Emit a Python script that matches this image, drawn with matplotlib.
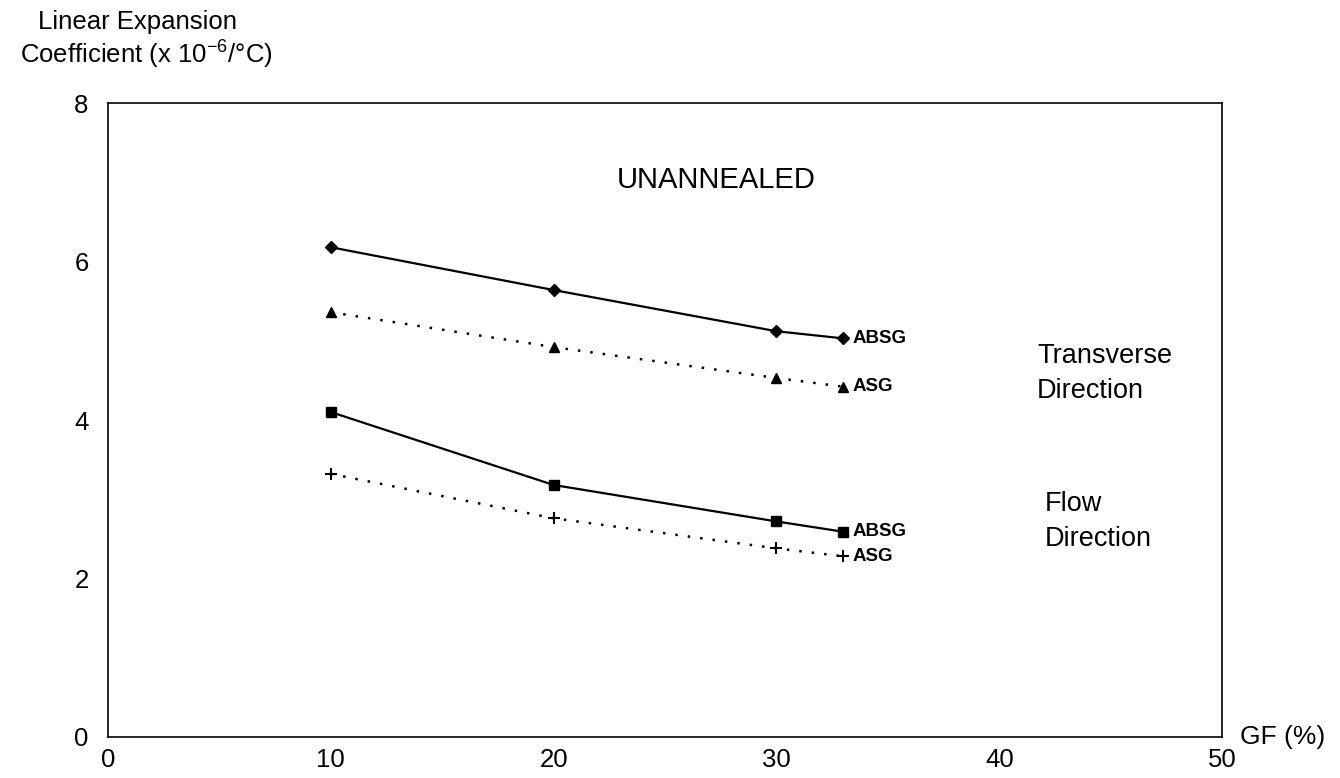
import matplotlib
matplotlib.use('Agg')
import matplotlib.pyplot as plt

plt.rcParams['font.family'] = ['Liberation Sans', 'DejaVu Sans']
plt.rcParams['mathtext.fontset'] = 'custom'
plt.rcParams['mathtext.rm'] = 'Liberation Sans'
plt.rcParams['mathtext.it'] = 'Liberation Sans'

# --- Daten ---
gf = [10, 20, 30, 33]
trans_absg = [6.18, 5.64, 5.12, 5.03]
trans_asg = [5.36, 4.92, 4.53, 4.42]
flow_absg = [4.10, 3.18, 2.72, 2.59]
flow_asg = [3.32, 2.76, 2.38, 2.28]
x_ticks = [0, 10, 20, 30, 40, 50]
y_ticks = [0, 2, 4, 6, 8]

fig = plt.figure(figsize=(13.4, 7.78), dpi=100)
ax = fig.add_axes([0.0806, 0.0527, 0.8314, 0.8149])

dotted = (0, (1, 4))
ax.plot(gf, trans_absg, color='black', lw=1.6, marker='D', ms=6)
ax.plot(gf, trans_asg, color='black', lw=1.8, ls=dotted, marker='^', ms=7)
ax.plot(gf, flow_absg, color='black', lw=1.6, marker='s', ms=6.5)
ax.plot(gf, flow_asg, color='black', lw=1.8, ls=dotted, marker='+', ms=8, mew=1.5)

# Beschriftungen der Kurven
for series, label in [(trans_absg, 'ABSG'), (trans_asg, 'ASG'),
                      (flow_absg, 'ABSG'), (flow_asg, 'ASG')]:
    ax.annotate(label, (gf[-1], series[-1]), xytext=(7, 0),
                textcoords='offset points', va='center', ha='left',
                fontsize=13.5, fontweight='bold')

ax.text(27.3, 7.03, 'UNANNEALED', fontsize=21, ha='center', va='center')
ax.text(41.7, 4.59, 'Transverse\nDirection', fontsize=19.5, ha='left',
        va='center', linespacing=1.45)
ax.text(42.05, 2.72, 'Flow\nDirection', fontsize=19.5, ha='left',
        va='center', linespacing=1.45)
ax.text(50.8, 0, 'GF (%)', fontsize=19, ha='left', va='center', clip_on=False)

ax.set_xlim(0, 50)
ax.set_ylim(0, 8)
ax.set_xticks(x_ticks)
ax.set_yticks(y_ticks)
ax.tick_params(length=0, labelsize=18.5)
ax.tick_params(axis='y', pad=14)
ax.tick_params(axis='x', pad=8)
for sp in ax.spines.values():
    sp.set_linewidth(1.2)

fig.text(137 / 1340, 1 - 22 / 778, 'Linear Expansion', fontsize=18.5,
         ha='center', va='center')
fig.text(146 / 1340, 1 - 55 / 778, r'Coefficient (x 10$^{-6}$/°C)',
         fontsize=18.5, ha='center', va='center')

fig.savefig('out.png', dpi=100)
